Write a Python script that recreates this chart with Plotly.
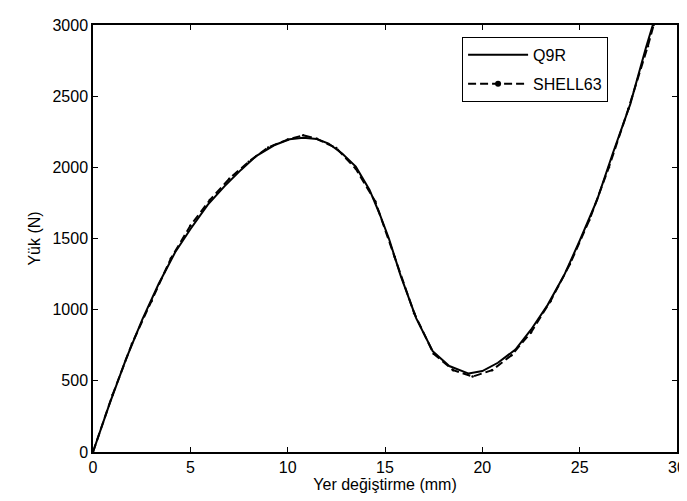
import plotly.graph_objects as go

# Q9R (solid)
q9r_x = [0, 0.84, 1.69, 2.53, 3.37, 4.22, 5.0, 5.9, 6.75, 7.6, 8.4, 9.3, 10.1, 10.8,
         11.5, 12.1, 12.8, 13.5, 14.2, 14.7, 15.2, 15.8, 16.6, 17.45, 18.3, 19.3,
         20.0, 20.8, 21.7, 22.5, 23.35, 24.2, 25.0, 25.9, 26.7, 27.6, 28.4, 28.75, 29.0]
q9r_y = [0, 335, 650, 930, 1180, 1403, 1565, 1738, 1866, 1982, 2081, 2155, 2197, 2208,
         2199, 2167, 2097, 2005, 1843, 1681, 1500, 1241, 940, 708, 604, 551,
         569, 627, 720, 859, 1032, 1241, 1484, 1773, 2097, 2444, 2838, 3000, 3110]

# SHELL63 (dashed with dots)
sh_x = [0, 1, 2, 3, 4, 5, 6, 7, 8, 9, 10, 10.8, 11.5, 12.5, 13.5, 14.5, 15.5, 16.5,
        17.5, 18.5, 19.5, 20.5, 21.5, 22.5, 23.5, 24.5, 25.5, 26.5, 27.5, 28.5, 28.8, 29.0]
sh_y = [0, 400, 760, 1060, 1360, 1590, 1770, 1920, 2040, 2140, 2195, 2225, 2200, 2135,
        1990, 1760, 1370, 975, 690, 575, 530, 575, 680, 840, 1060, 1320, 1630, 2000,
        2410, 2850, 3000, 3100]

FONT = "Liberation Sans, Arial, Helvetica, sans-serif"

fig = go.Figure()
fig.add_trace(go.Scatter(x=q9r_x, y=q9r_y, mode="lines", name="Q9R", legendgroup="a",
                         line=dict(color="black", width=2)))
fig.add_trace(go.Scatter(x=sh_x, y=sh_y, mode="lines+markers", name="SHELL63", legendgroup="b",
                         showlegend=False,
                         line=dict(color="black", width=2, dash="8px,4px"),
                         marker=dict(color="black", size=2.5)))
# legend entry for SHELL63 (larger dot, as in the original legend)
fig.add_trace(go.Scatter(x=[None], y=[None], mode="lines+markers", name="SHELL63", legendgroup="b",
                         line=dict(color="black", width=2, dash="8px,4px"),
                         marker=dict(color="black", size=6)))

axis_common = dict(showgrid=False, zeroline=False, showline=True, linecolor="black",
                   linewidth=1.5, mirror="ticks", ticks="inside", ticklen=5,
                   tickcolor="black", tickwidth=1, tickfont=dict(family=FONT, size=16, color="black"))

fig.update_layout(
    width=687, height=501,
    margin=dict(l=85, r=9, t=12, b=57),
    paper_bgcolor="white", plot_bgcolor="white",
    font=dict(family=FONT, size=16, color="black"),
    xaxis=dict(range=[0, 30], tickvals=[0, 5, 10, 15, 20, 25, 30],
               title=dict(text="Yer değiştirme (mm)", font=dict(family=FONT, size=16), standoff=4),
               **axis_common),
    yaxis=dict(range=[0, 3000], tickvals=[0, 500, 1000, 1500, 2000, 2500, 3000],
               title=dict(text="Yük (N)", font=dict(family=FONT, size=16), standoff=8),
               **axis_common),
    legend=dict(x=0.632, y=0.972, xanchor="left", yanchor="top",
                bgcolor="white", bordercolor="black", borderwidth=1,
                itemwidth=60, tracegroupgap=5,
                font=dict(family=FONT, size=16, color="black")),
    showlegend=True,
)

fig.write_html("out.html")
